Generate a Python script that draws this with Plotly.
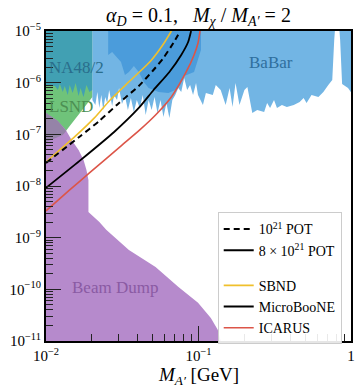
import math
import plotly.graph_objects as go

# ---------------- data (M_A' in GeV, y = epsilon^2 style coupling) ----------------
# Beam dump exclusion (purple)
bd_m = [0.0095, 0.01, 0.01196, 0.01346, 0.01472, 0.01636, 0.01763, 0.01842, 0.01898,
        0.01898, 0.02238, 0.02482, 0.03497, 0.0523, 0.07357, 0.0993, 0.1205, 0.1337,
        0.1399, 0.145, 0.0095]
bd_y = [2.59e-7, 2.59e-7, 1.82e-7, 1.22e-7, 7.8e-8, 5.0e-8, 3.2e-8, 2.05e-8, 1.31e-8,
        3.15e-9, 2.02e-9, 1.42e-9, 5.8e-10, 2.72e-10, 1.12e-10, 5.5e-11, 2.8e-11, 1.65e-11,
        1e-11, 5e-12, 5e-12]

# LSND (green)
lsnd_m = [0.009, 0.02015, 0.02015, 0.01762, 0.01518, 0.01288, 0.01, 0.009]
lsnd_y = [2e-5, 2e-5, 5.29e-7, 3.24e-7, 1.82e-7, 9.7e-8, 7.1e-8, 7.1e-8]

# LSND / beam dump overlap
ov_m = [0.009, 0.01, 0.01196, 0.01357, 0.01288, 0.01, 0.009]
ov_y = [2.59e-7, 2.59e-7, 1.82e-7, 1.16e-7, 9.7e-8, 7.1e-8, 7.1e-8]

# NA48/2 (teal)
na_m = [0.009, 0.02015, 0.02015, 0.01927, 0.01842, 0.01762, 0.01685, 0.01636, 0.01564,
        0.01496, 0.01430, 0.01388, 0.01327, 0.01288, 0.01232, 0.01196, 0.01144, 0.009]
na_y = [2e-5, 2e-5, 7.22e-7, 6.61e-7, 9.03e-7, 5.29e-7, 7.90e-7, 5.53e-7, 9.87e-7,
        6.32e-7, 9.03e-7, 5.78e-7, 8.63e-7, 6.61e-7, 9.44e-7, 7.22e-7, 8.63e-7, 8.63e-7]

# BaBar (light blue) lower edge
bb_m = [0.02015, 0.02107, 0.02171, 0.02236, 0.02304, 0.02374, 0.02445, 0.02519, 0.02596,
        0.02714, 0.02797, 0.02924, 0.03013, 0.03150, 0.03294, 0.03444, 0.03602, 0.03768,
        0.03939, 0.04120, 0.04308, 0.04505, 0.04711, 0.04928, 0.05152, 0.05387, 0.05634,
        0.05890, 0.06160, 0.06443, 0.06737, 0.07045, 0.07367, 0.07705, 0.08056, 0.08425,
        0.08810, 0.09213, 0.09634, 0.09926, 0.1069, 0.1118, 0.1241, 0.1298, 0.1398,
        0.1507, 0.1599, 0.1672, 0.1749, 0.1856, 0.2000, 0.2092, 0.2253, 0.2427, 0.2694,
        0.2818, 0.2947, 0.3127, 0.3270, 0.3524, 0.3796, 0.4213, 0.4607, 0.4890, 0.5113,
        0.5510, 0.6114, 0.6589, 0.7100, 0.7536, 0.7762, 0.7878, 0.8360, 0.8487, 0.8744,
        0.956, 1.05]
bb_y = [4.63e-7, 3.70e-7, 6.61e-7, 3.24e-7, 5.78e-7, 2.96e-7, 5.29e-7, 4.05e-7, 7.22e-7,
        3.54e-7, 5.78e-7, 4.63e-7, 7.90e-7, 3.87e-7, 5.53e-7, 2.96e-7, 5.06e-7, 2.71e-7,
        4.63e-7, 3.24e-7, 5.78e-7, 2.37e-7, 4.63e-7, 2.96e-7, 5.29e-7, 2.59e-7, 4.63e-7,
        2.17e-7, 4.05e-7, 2.08e-7, 4.63e-7, 5.78e-7, 7.90e-7, 6.61e-7, 1.233e-6, 7.22e-7,
        9.03e-7, 5.78e-7, 9.87e-7, 5.78e-7, 3.70e-7, 6.32e-7, 5.78e-7, 9.03e-7, 7.22e-7,
        3.70e-7, 7.90e-7, 3.39e-7, 9.87e-7, 3.70e-7, 7.22e-7, 8.26e-7, 2.59e-7, 2.96e-7,
        2.71e-7, 4.05e-7, 3.24e-7, 4.63e-7, 3.24e-7, 3.70e-7, 3.39e-7, 3.70e-7, 4.23e-7,
        5.06e-7, 4.05e-7, 5.78e-7, 5.29e-7, 6.61e-7, 9.03e-7, 1.128e-6, 6.70e-6, 1.2e-5,
        1.2e-5, 6.70e-6, 9.44e-7, 7.90e-7, 5.29e-7]

# Overlapping (darker blue) region lower edge
db_m = [0.02557, 0.02557, 0.02714, 0.02924, 0.03104, 0.03294, 0.03497, 0.03768, 0.04059,
        0.04374, 0.04711, 0.05470, 0.06348, 0.07045, 0.07592, 0.08056, 0.09352, 0.1038,
        0.1038]
db_y = [2e-5, 3.44e-6, 3.93e-6, 3.01e-6, 2.51e-6, 1.41e-6, 1.61e-6, 2.10e-6, 1.61e-6,
        1.03e-6, 7.90e-7, 6.61e-7, 6.32e-7, 7.22e-7, 9.03e-7, 1.348e-6, 1.61e-6, 4.29e-6,
        2e-5]

# Sensitivity curves
sbnd_m = [0.0100, 0.01232, 0.01564, 0.02076, 0.02634, 0.03549, 0.04855, 0.0589, 0.0664]
sbnd_y = [2.92e-8, 5.0e-8, 9.3e-8, 2.08e-7, 4.62e-7, 1.08e-6, 2.63e-6, 5.61e-6, 1e-5]

pot21_m = [0.0100, 0.01685, 0.02236, 0.03013, 0.04059, 0.0500, 0.0589, 0.06839, 0.07592]
pot21_y = [2.80e-8, 9.3e-8, 1.82e-7, 4.05e-7, 8.63e-7, 1.68e-6, 3.01e-6, 5.86e-6, 1e-5]

ub_m = [0.0100, 0.0166, 0.02797, 0.04059, 0.05076, 0.06443, 0.07705, 0.08551, 0.08942]
ub_y = [9.2e-9, 3.06e-8, 1.11e-7, 3.24e-7, 7.22e-7, 1.61e-6, 3.44e-6, 6.13e-6, 1e-5]

ic_m = [0.0100, 0.0143, 0.01927, 0.0315, 0.0412, 0.0523, 0.06637, 0.08301, 0.09352,
        0.09927, 0.1023]
ic_y = [3.3e-9, 8.4e-9, 1.79e-8, 6.2e-8, 1.22e-7, 2.37e-7, 5.29e-7, 1.61e-6, 3.44e-6,
        5.86e-6, 1e-5]

y_ticks = [1e-11, 1e-10, 1e-9, 1e-8, 1e-7, 1e-6, 1e-5]
y_labels = ["10<sup>−11</sup>", "10<sup>−10</sup>", "10<sup>−9</sup>", "10<sup>−8</sup>",
            "10<sup>−7</sup>", "10<sup>−6</sup>", "10<sup>−5</sup>"]
x_ticks = [0.01, 0.1, 1]
x_labels = ["10<sup>−2</sup>", "10<sup>−1</sup>", "1"]

# region labels (text, mass at left edge of text, coupling at text centre)
region_labels = ["NA48/2", "LSND", "BaBar", "Beam Dump"]
label_m = [0.0102, 0.0102, 0.209, 0.0143]
label_y = [1.95e-6, 3.39e-7, 2.51e-6, 1.07e-10]
label_colors = ["#2a6e8c", "#4c8f52", "#2f6f9e", "#8a5aa3"]

# ---------------- figure ----------------
FONT = "Liberation Serif"
fig = go.Figure()


def region(xs, ys, color):
    fig.add_trace(go.Scatter(x=xs, y=ys, mode="lines", fill="toself", fillcolor=color,
                             line=dict(width=0, color=color), hoverinfo="skip",
                             showlegend=False))


region(lsnd_m, lsnd_y, "#6fc37a")
region(bd_m, bd_y, "#b68acc")
region(ov_m, ov_y, "#9583a8")
region(na_m, na_y, "#41a0b3")
region(bb_m + [1.05, 0.02015], bb_y + [2e-5, 2e-5], "#72b5e4")
region(db_m, db_y, "#4b9cdb")


def curve(xs, ys, color, dash="solid", width=1.8):
    fig.add_trace(go.Scatter(x=xs, y=ys, mode="lines", line=dict(color=color, width=width,
                             dash=dash, shape="spline", smoothing=0.6),
                             hoverinfo="skip", showlegend=False))


curve(sbnd_m, sbnd_y, "#f0c02c", width=1.6)
curve(pot21_m, pot21_y, "black", dash="6px,4px", width=2)
curve(ub_m, ub_y, "black", width=1.8)
curve(ic_m, ic_y, "#dc5548", width=1.6)


# legend entries
def leg(name, color, group, dash="solid", width=2):
    fig.add_trace(go.Scatter(x=[None], y=[None], mode="lines", name=name,
                             legendgroup=group,
                             line=dict(color=color, dash=dash, width=width)))


leg("10<sup>21</sup> POT", "black", "pot", dash="6px,4px")
leg("8 × 10<sup>21</sup> POT", "black", "pot")
leg("SBND", "#f0c02c", "det", width=1.6)
leg("MicroBooNE", "black", "det")
leg("ICARUS", "#dc5548", "det", width=1.6)

minor_y = [m * 10.0 ** e for e in range(-11, -5) for m in range(2, 10)]
minor_x = [m * 10.0 ** e for e in range(-2, 0) for m in range(2, 10)]

fig.update_xaxes(type="log", range=[-2, 0], tickmode="array", tickvals=x_ticks,
                 ticktext=x_labels, ticks="inside", ticklen=15, tickwidth=1.3,
                 tickcolor="#222", showgrid=False, zeroline=False, showline=True,
                 linecolor="black", linewidth=2, mirror=True,
                 tickfont=dict(family=FONT, size=15, color="black"),
                 minor=dict(tickmode="array", tickvals=minor_x, ticks="inside",
                            ticklen=7, tickwidth=1, tickcolor="#222", showgrid=False))
fig.update_yaxes(type="log", range=[-11, -5], tickmode="array", tickvals=y_ticks,
                 ticktext=y_labels, ticks="inside", ticklen=15, tickwidth=1.3,
                 tickcolor="#222", showgrid=False, zeroline=False, showline=True,
                 linecolor="black", linewidth=2, mirror=True,
                 tickfont=dict(family=FONT, size=15, color="black"),
                 minor=dict(tickmode="array", tickvals=minor_y, ticks="inside",
                            ticklen=7, tickwidth=1, tickcolor="#222", showgrid=False))

anns = [
    dict(x=0.5, y=1, xref="paper", yref="paper", yanchor="middle", yshift=15,
         text="<i>α</i><sub><i>D</i></sub> = 0.1,   <i>M</i><sub><i>χ</i></sub> / <i>M</i><sub><i>A′</i></sub> = 2",
         font=dict(family=FONT, size=20, color="black"), showarrow=False),
    dict(x=0.5, y=0, xref="paper", yref="paper", yanchor="middle", yshift=-35,
         text="<i>M</i><sub><i>A′</i></sub> [GeV]",
         font=dict(family=FONT, size=19, color="black"), showarrow=False),
]
for t, m, v, c in zip(region_labels, label_m, label_y, label_colors):
    anns.append(dict(x=math.log10(m), y=math.log10(v), xref="x", yref="y",
                     xanchor="left", yanchor="middle", text=t,
                     font=dict(family=FONT, size=17, color=c), showarrow=False))

fig.update_layout(
    width=362, height=387,
    margin=dict(l=46, r=7, t=31, b=46),
    paper_bgcolor="white", plot_bgcolor="white",
    annotations=anns,
    legend=dict(x=0.563, y=0.415, xanchor="left", yanchor="top",
                bgcolor="rgba(255,255,255,0.9)", bordercolor="#cccccc", borderwidth=1,
                font=dict(family=FONT, size=14, color="black"), itemwidth=30,
                traceorder="grouped", tracegroupgap=14),
    showlegend=True,
)

fig.write_html("out.html")
